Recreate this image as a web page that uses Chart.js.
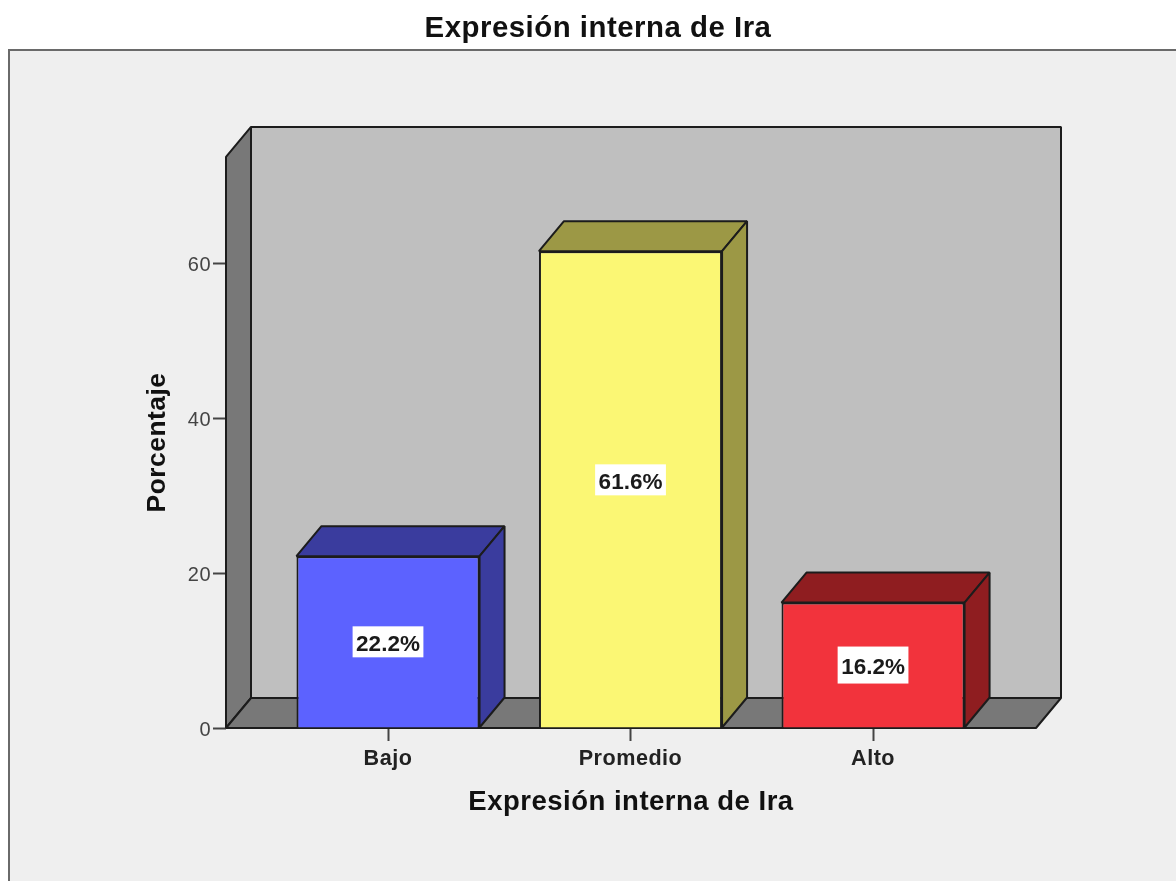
<!DOCTYPE html>
<html><head><meta charset="utf-8">
<style>html,body{margin:0;padding:0;background:#fff}canvas{display:block}</style>
<script src="https://cdn.jsdelivr.net/npm/chart.js@4"></script>
</head><body><canvas id="c" width="1176" height="881"></canvas>
<script>
const categories = ['Bajo', 'Promedio', 'Alto'];
const percentages = [22.2, 61.6, 16.2];
const yTickValues = [0, 20, 40, 60];
const frontColors = ['#5c62ff', '#fbf774', '#f2333c'];
const depthColors = ['#3a3c9e', '#9c9845', '#8f1d20'];
const chartTitle = 'Expresión interna de Ira';
const yTitle = 'Porcentaje';
const labelBoxHeights = [31, 31, 37];
const labelShifts = [0, -9.5, 0];

const DEPTH_X = 25, DEPTH_Y = -30, INK = '#1c1c1c';
const FONT = '"Liberation Sans", Arial, sans-serif';

function poly(ctx, pts, fill) {
  ctx.beginPath();
  pts.forEach((p, i) => i ? ctx.lineTo(p[0], p[1]) : ctx.moveTo(p[0], p[1]));
  ctx.closePath();
  ctx.fillStyle = fill;
  ctx.fill();
  ctx.lineWidth = 2;
  ctx.lineJoin = 'bevel';
  ctx.strokeStyle = INK;
  ctx.stroke();
}

const panelPlugin = {
  id: 'panel',
  beforeDraw(chart) {
    const ctx = chart.ctx;
    ctx.save();
    ctx.fillStyle = '#efefef';
    ctx.fillRect(9, 50, chart.width, chart.height);
    ctx.strokeStyle = '#6a6a6a';
    ctx.lineWidth = 2;
    ctx.strokeRect(9, 50, chart.width + 10, chart.height + 10);
    ctx.restore();
    ctx.letterSpacing = '0.5px';
  }
};

const boxPlugin = {
  id: 'box3d',
  beforeDatasetsDraw(chart) {
    const ctx = chart.ctx, a = chart.chartArea;
    const dx = DEPTH_X, dy = DEPTH_Y;
    ctx.save();
    poly(ctx, [[a.left + dx, a.top + dy], [a.right + dx, a.top + dy], [a.right + dx, a.bottom + dy], [a.left + dx, a.bottom + dy]], '#bfbfbf');
    poly(ctx, [[a.left, a.top], [a.left + dx, a.top + dy], [a.left + dx, a.bottom + dy], [a.left, a.bottom]], '#787878');
    poly(ctx, [[a.left, a.bottom], [a.left + dx, a.bottom + dy], [a.right + dx, a.bottom + dy], [a.right, a.bottom]], '#787878');
    chart.getDatasetMeta(0).data.forEach((bar, i) => {
      const l = bar.x - bar.width / 2, r = bar.x + bar.width / 2, t = bar.y, b = bar.base;
      poly(ctx, [[l, t], [l + dx, t + dy], [r + dx, t + dy], [r, t]], depthColors[i]);
      poly(ctx, [[r, t], [r + dx, t + dy], [r + dx, b + dy], [r, b]], depthColors[i]);
    });
    ctx.restore();
  },
  afterDatasetsDraw(chart) {
    const ctx = chart.ctx;
    ctx.save();
    ctx.letterSpacing = '0px';
    chart.getDatasetMeta(0).data.forEach((bar, i) => {
      const text = percentages[i].toFixed(1) + '%';
      ctx.font = 'bold 22.5px ' + FONT;
      const w = ctx.measureText(text).width + 7, h = labelBoxHeights[i];
      const cy = (bar.y + bar.base) / 2 + labelShifts[i];
      ctx.fillStyle = '#fff';
      ctx.fillRect(bar.x - w / 2, cy - h / 2, w, h);
      ctx.fillStyle = '#1a1a1a';
      ctx.textAlign = 'center';
      ctx.textBaseline = 'middle';
      ctx.fillText(text, bar.x, cy + 3);
    });
    ctx.restore();
  }
};

new Chart(document.getElementById('c'), {
  type: 'bar',
  plugins: [panelPlugin, boxPlugin],
  data: {
    datasets: [{
      data: percentages.map((v, i) => ({ x: i, y: v })),
      backgroundColor: frontColors,
      borderColor: INK,
      borderWidth: 2,
      categoryPercentage: 0.755,
      barPercentage: 1
    }]
  },
  options: {
    responsive: false,
    animation: false,
    layout: { padding: { left: 20, right: 0, top: 0, bottom: 0 } },
    plugins: {
      legend: { display: false },
      tooltip: { enabled: false },
      title: {
        display: true, text: chartTitle, color: '#111',
        font: { family: FONT, size: 29.4, weight: 'bold' },
        padding: { top: 11, bottom: 110.7 }
      }
    },
    scales: {
      x: {
        type: 'linear', offset: false, min: -0.668, max: 2.672,
        afterFit(s) { s.height = 153; },
        afterBuildTicks(s) { s.ticks = categories.map((_, i) => ({ value: i })); },
        grid: { offset: false, drawOnChartArea: false, tickLength: 13, tickColor: '#444', tickWidth: 2 },
        border: { display: false },
        ticks: {
          callback: v => categories[v], color: '#222', padding: 5, maxRotation: 0, autoSkip: false,
          font: { family: FONT, size: 21.6, weight: 'bold' }
        },
        title: {
          display: true, text: chartTitle, color: '#111', padding: 62.5,
          font: { family: FONT, size: 27.5, weight: 'bold' }
        }
      },
      y: {
        min: 0, max: 73.77,
        afterFit(s) { s.width = 206; },
        afterBuildTicks(s) { s.ticks = yTickValues.map(v => ({ value: v })); },
        grid: { drawOnChartArea: false, tickLength: 13, tickColor: '#444', tickWidth: 2 },
        border: { display: false },
        ticks: { color: '#444', padding: 2, labelOffset: 2, font: { family: FONT, size: 20 } },
        title: {
          display: true, text: yTitle, color: '#111', padding: 122,
          font: { family: FONT, size: 26.4, weight: 'bold' }
        }
      },
      spacer: {
        position: 'right', display: true,
        afterFit(s) { s.width = 140; },
        grid: { display: false }, border: { display: false },
        ticks: { display: false }, title: { display: false }
      }
    }
  }
});
</script></body></html>
